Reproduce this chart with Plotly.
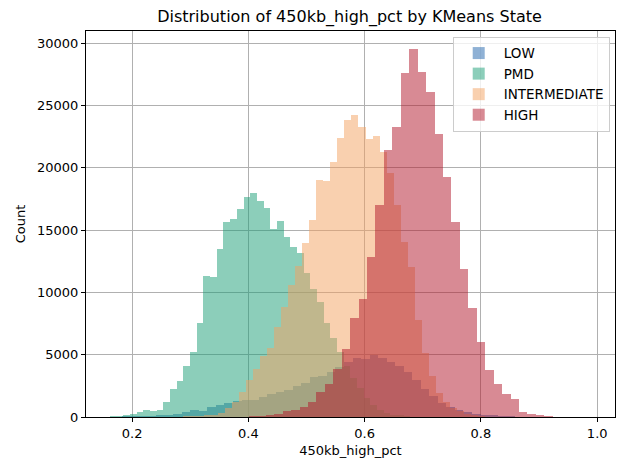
import plotly.graph_objects as go

# ---- data: per-state histogram bins (left edge of first bin, bin width, counts) ----
states = ["LOW", "PMD", "INTERMEDIATE", "HIGH"]
colors = ["#2166ac", "#1b9e77", "#f4a261", "#b2182b"]

low_start = 0.18275
low_width = 0.01468
low_counts = [30, 40, 50, 80, 130, 190, 270, 375, 560, 480, 800, 940, 1120, 1280,
              1360, 1380, 1605, 1846, 2006, 2193, 2514, 2728, 3210, 3290, 3611,
              3986, 4440, 4710, 4650, 4975, 4710, 4440, 4093, 3611, 2970, 2247,
              1685, 1150, 830, 560, 430, 270, 160, 110, 80, 60]

pmd_start = 0.162
pmd_width = 0.01148
pmd_counts = [40, 60, 90, 230, 375, 540, 470, 550, 1177, 2247, 2889, 4093, 5216,
              7544, 11315, 11235, 13482, 15649, 15890, 16692, 17655, 17976, 17334,
              16772, 15087, 15729, 14445, 13643, 13161, 11580, 10270, 9256, 7544,
              6340, 5243, 4100, 3100, 2300, 1500, 1000, 600, 350, 200, 100, 50]

inter_start = 0.28711
inter_width = 0.01209
inter_counts = [20, 40, 70, 120, 200, 350, 700, 1230, 2030, 2970, 3850, 4900, 5550,
                7220, 8800, 10590, 12100, 13950, 15810, 19020, 18940, 20470, 22390,
                23840, 24240, 23280, 22310, 22550, 21300, 19600, 17000, 14070, 12060,
                7750, 5110, 3290, 1900, 1200, 750, 450, 230, 120, 60]

high_start = 0.40090
high_width = 0.014516
high_counts = [30, 60, 134, 240, 481, 562, 776, 1204, 2006, 2648, 3852, 5450, 7920,
               9470, 12870, 17010, 21430, 23300, 27580, 29530, 27660, 26110, 22710,
               19290, 15650, 11880, 8770, 6045, 3800, 2650, 1845, 1430, 420, 230,
               140, 80]

x_tick_vals = [0.2, 0.4, 0.6, 0.8, 1.0]
y_tick_vals = [0, 5000, 10000, 15000, 20000, 25000, 30000]

series = [
    (low_start, low_width, low_counts),
    (pmd_start, pmd_width, pmd_counts),
    (inter_start, inter_width, inter_counts),
    (high_start, high_width, high_counts),
]

fig = go.Figure()
for name, color, (start, width, counts) in zip(states, colors, series):
    centers = [start + width * (i + 0.5) for i in range(len(counts))]
    fig.add_trace(go.Bar(
        x=centers, y=counts, width=width, name=name,
        marker=dict(color=color, line=dict(width=0)),
        opacity=0.5,
    ))

font_family = "DejaVu Sans"
axis_common = dict(
    showgrid=True, gridcolor="#b0b0b0", gridwidth=0.8,
    showline=True, linecolor="black", linewidth=1, mirror=True,
    ticks="outside", ticklen=4, tickcolor="black", tickwidth=1,
    zeroline=False, layer="above traces",
    tickfont=dict(family=font_family, size=13, color="black"),
)

# page body has an 8px margin, so the figure is sized/offset to compensate
W, H = 621, 462
fig.update_layout(
    width=W, height=H,
    barmode="overlay", bargap=0,
    paper_bgcolor="white", plot_bgcolor="white",
    margin=dict(l=76, r=14, t=23, b=53),
    font=dict(family=font_family, size=13, color="black"),
    title=dict(text="Distribution of 450kb_high_pct by KMeans State",
               x=(76 + (W - 14)) / 2 / W, xanchor="center",
               y=1 - 8 / H, yanchor="middle",
               font=dict(family=font_family, size=16, color="black")),
    xaxis=dict(range=[0.1207, 1.0306], tickvals=x_tick_vals,
               ticktext=[f"{v:.1f}" for v in x_tick_vals],
               title=dict(text="450kb_high_pct", standoff=6,
                          font=dict(family=font_family, size=13)),
               **axis_common),
    yaxis=dict(range=[0, 30980], tickvals=y_tick_vals,
               ticktext=[str(v) for v in y_tick_vals],
               title=dict(text="Count", standoff=8,
                          font=dict(family=font_family, size=13)),
               **axis_common),
    legend=dict(x=0.99, y=0.985, xanchor="right", yanchor="top",
                bgcolor="rgba(255,255,255,0.8)", bordercolor="#cccccc",
                borderwidth=1, font=dict(family=font_family, size=13.5),
                itemwidth=40, tracegroupgap=2),
)

fig.write_html("out.html")
